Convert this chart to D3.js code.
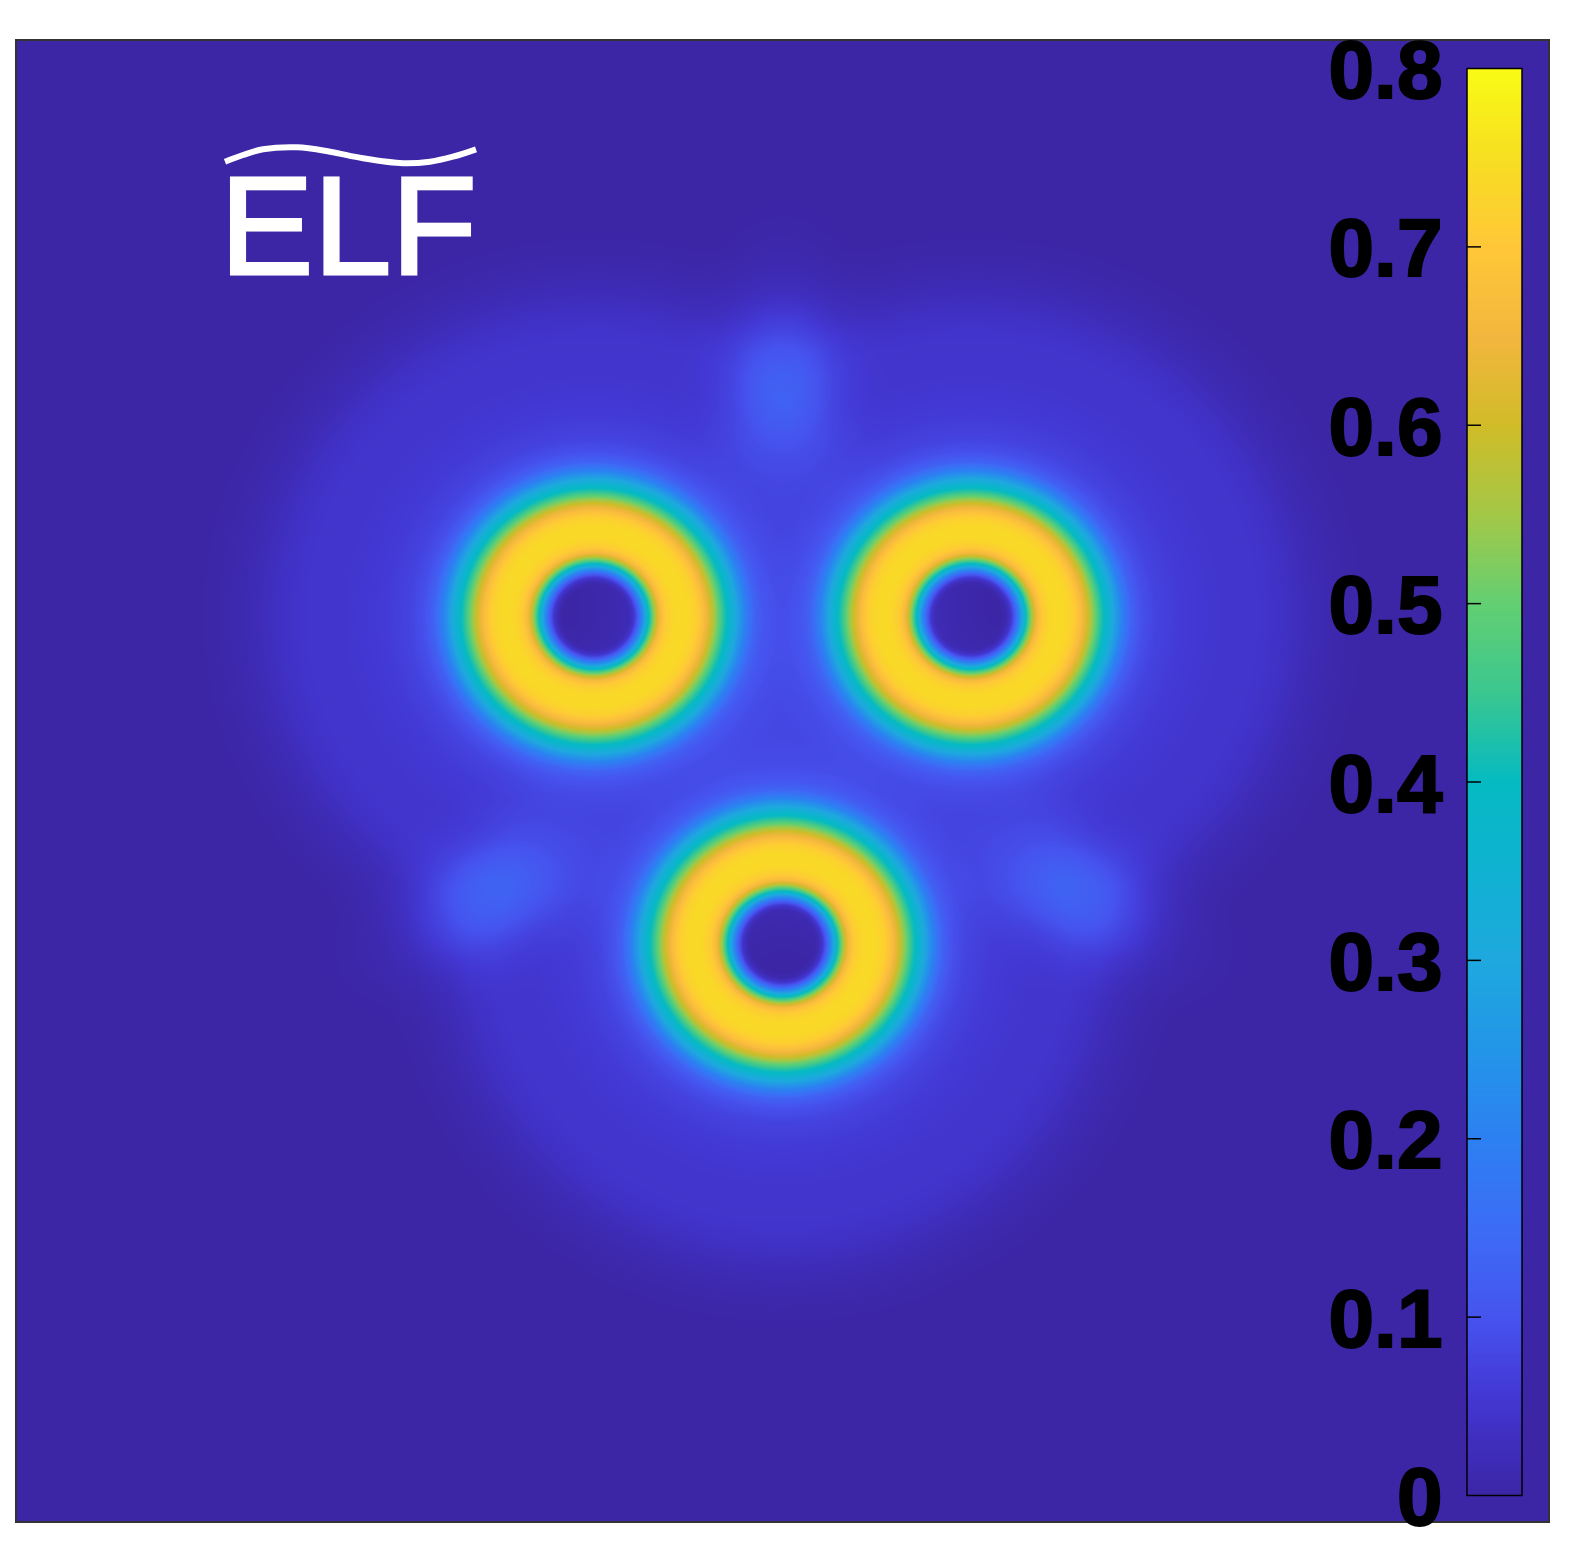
<!DOCTYPE html>
<html><head><meta charset="utf-8">
<style>html,body{margin:0;padding:0;background:#fff;overflow:hidden}svg{display:block}</style>
<script src="https://cdn.jsdelivr.net/npm/d3@7"></script></head><body>
<script>
// ---- data ----
const colorbarTicks = [0,0.1,0.2,0.3,0.4,0.5,0.6,0.7,0.8];
// colormap as it appears on the colour bar
const colorValues = [0,0.03,0.06,0.1,0.15,0.2,0.25,0.3,0.35,0.4,0.45,0.5,0.55,0.6,0.65,0.7,0.75,0.8];
const colorHex = ["#3c26a6","#3f2ebd","#4339d6","#4653ee","#3c6cf6","#2c80f2","#2395e8","#1ea8de","#10b2d2","#05bac2","#3ac790","#62cf72","#a3c847","#d0bc28","#f3b63e","#ffc738","#f7de22","#f9fb15"];
// atom sites in map units
const atomX = [37.7,62.3,50.0];
const atomY = [38.9,38.9,61.0];
// radial ELF profile around one atom (map units, value)
const profileR = [0,1.96,2.28,2.61,2.94,3.26,3.52,3.78,4.04,4.31,4.7,5.22,6.0,6.65,7.18,7.63,8.02,8.41,8.87,9.33,9.85,10.44,11.09,12.07,13.7,16.3,18.9,20.55,22.2,24.1,26.1];
const profileV = [0,0,0.012,0.05,0.14,0.26,0.38,0.48,0.58,0.66,0.71,0.735,0.74,0.72,0.67,0.6,0.52,0.44,0.37,0.29,0.2,0.13,0.095,0.075,0.06,0.05,0.048,0.038,0.02,0.006,0];
// brighter lobes where neighbouring shells meet (map units)
const lobeX = [50.0,30.5,69.7];
const lobeY = [22.5,57.9,57.9];
const lobeAngle = [90,-30,30];
const lobeLong = 7.5, lobeShort = 4.5;
const lobeD = [0,0.25,0.5,0.75,1,1.3,1.6];
const lobeV = [0.075,0.07,0.05,0.027,0.012,0.003,0];
const titleText = "ELF";
// ---- layout ----
const W=1581,H=1568, L=16,T=40,R=1549,B=1522;
const svg=d3.select("body").append("svg").attr("width",W).attr("height",H).attr("viewBox",[0,0,W,H]);
const x=d3.scaleLinear().domain([0,100]).range([L,R]);
const y=d3.scaleLinear().domain([0,100]).range([T,B]);
const color=d3.scaleLinear().domain(colorValues).range(colorHex).interpolate(d3.interpolateRgb).clamp(true);
const radial=d3.scaleLinear().domain(profileR).range(profileV).clamp(true);
const lobeFall=d3.scaleLinear().domain(lobeD).range(lobeV).clamp(true);
const cw=Math.round(R-L),ch=Math.round(B-T);
const cv=document.createElement("canvas");cv.width=cw;cv.height=ch;
const ctx=cv.getContext("2d");const img=ctx.createImageData(cw,ch);
const lut=d3.range(1024).map(i=>d3.rgb(color(i/1023*0.8)));
const cosA=lobeAngle.map(a=>Math.cos(a*Math.PI/180)),sinA=lobeAngle.map(a=>Math.sin(a*Math.PI/180));
let k=0;
for(let j=0;j<ch;j++){const yv=y.invert(T+j+.5);
 for(let i=0;i<cw;i++){const xv=x.invert(L+i+.5);
  let s=0;
  for(let a=0;a<3;a++){const dx=xv-atomX[a],dy=yv-atomY[a];const v=radial(Math.sqrt(dx*dx+dy*dy));s+=v*v*v;}
  s=Math.cbrt(s);
  for(let a=0;a<3;a++){const dx=xv-lobeX[a],dy=yv-lobeY[a];
    const u=(dx*cosA[a]+dy*sinA[a])/lobeLong,w=(-dx*sinA[a]+dy*cosA[a])/lobeShort;
    const d2=u*u+w*w; if(d2<2.56) s+=lobeFall(Math.sqrt(d2));}
  const c=lut[Math.min(1023,Math.round(s/0.8*1023))];
  img.data[k++]=c.r;img.data[k++]=c.g;img.data[k++]=c.b;img.data[k++]=255;}}
ctx.putImageData(img,0,0);
svg.append("image").attr("x",L).attr("y",T).attr("width",cw).attr("height",ch).attr("href",cv.toDataURL());
svg.append("rect").attr("x",L).attr("y",T).attr("width",R-L).attr("height",B-T).attr("fill","none").attr("stroke","#333").attr("stroke-width",2);
// colour bar
const cbL=1467,cbR=1522;
const cy=d3.scaleLinear().domain([0,0.8]).range([1495.5,68.5]);
const bands=d3.range(0,0.8,0.8/400);
svg.append("g").attr("shape-rendering","crispEdges").selectAll("rect").data(bands).join("rect")
 .attr("x",cbL).attr("width",cbR-cbL).attr("y",d=>cy(d+0.8/400)).attr("height",d=>cy(d)-cy(d+0.8/400)+1).attr("fill",d=>color(d+0.001));
svg.append("rect").attr("x",cbL).attr("y",cy(0.8)).attr("width",cbR-cbL).attr("height",cy(0)-cy(0.8)).attr("fill","none").attr("stroke","#000").attr("stroke-width",1.5);
svg.append("g").selectAll("line").data(colorbarTicks.slice(1,-1)).join("line")
 .attr("x1",cbL).attr("x2",cbL+14).attr("y1",d=>cy(d)).attr("y2",d=>cy(d)).attr("stroke","#000").attr("stroke-width",1.5);
const axis=d3.axisLeft(cy).tickValues(colorbarTicks).tickSize(0).tickPadding(0).tickFormat(d=>d===0?"0":d3.format(".1f")(d));
const ag=svg.append("g").attr("transform","translate(1442.5,0)").call(axis);
ag.select(".domain").remove();
ag.selectAll("text").attr("font-family","'Liberation Sans',Arial,sans-serif").attr("font-weight","700").attr("font-size",82)
 .attr("fill","#000").attr("stroke","#000").attr("stroke-width",2).attr("dy",null).attr("y",29);
// title with wavy tilde
svg.append("text").attr("x",220).attr("y",274).attr("font-family","'Liberation Sans',Arial,sans-serif").attr("font-size",140).attr("fill","#fff").attr("stroke","#fff").attr("stroke-width",3).text(titleText);
const tildeX=[225,243,263,297,330,363,403,430,453,476];
const tildeY=[161.7,155,149.3,147.3,151.7,158.3,163.3,161.7,156.7,149.3];
const tx=d3.scaleLinear().domain([225,476]).range([225,476]);
svg.append("path").attr("fill","none").attr("stroke","#fff").attr("stroke-width",6)
 .attr("d",d3.line().x(d=>tx(d)).y((d,i)=>tildeY[i]).curve(d3.curveCatmullRom)(tildeX));
</script></body></html>
